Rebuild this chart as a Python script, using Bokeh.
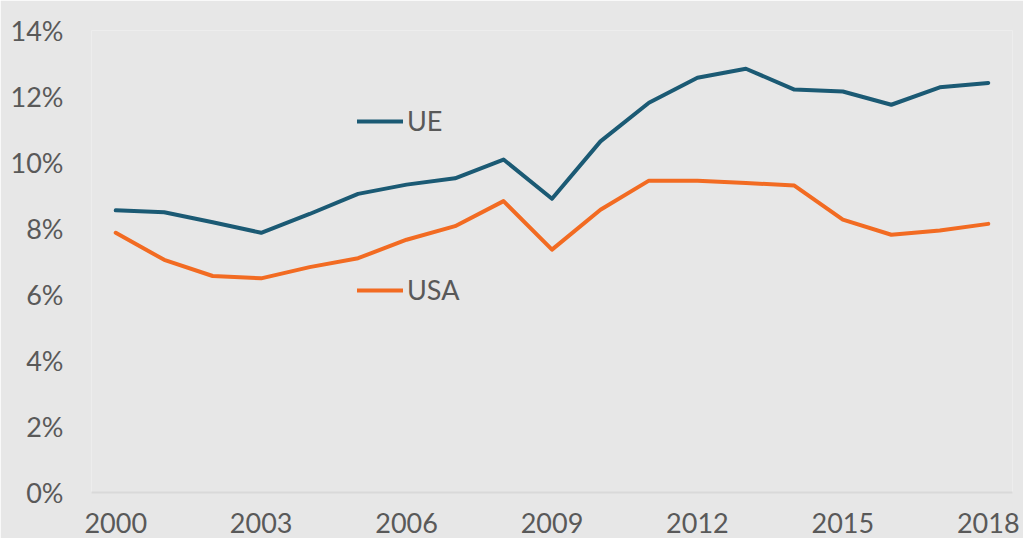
from bokeh.plotting import figure
from bokeh.models import FixedTicker, PrintfTickFormatter, Range1d, Legend, LegendItem
from bokeh.embed import file_html
from bokeh.resources import INLINE

years = list(range(2000, 2019))
ue = [8.55, 8.49, 8.19, 7.87, 8.44, 9.05, 9.33, 9.52, 10.09, 8.90, 10.64, 11.81,
      12.57, 12.84, 12.21, 12.15, 11.75, 12.28, 12.41]
usa = [7.87, 7.05, 6.56, 6.49, 6.83, 7.10, 7.66, 8.07, 8.83, 7.36, 8.57, 9.45,
       9.45, 9.38, 9.30, 8.27, 7.81, 7.94, 8.14]
y_ticks = [0, 2, 4, 6, 8, 10, 12, 14]
x_ticks = [2000, 2003, 2006, 2009, 2012, 2015, 2018]

BG = "#e7e7e7"
TXT = "#595959"
FONT = "Lato"

p = figure(width=1023, height=538, output_backend="svg", toolbar_location=None,
           x_range=Range1d(1999.5, 2018.5), y_range=Range1d(0, 14),
           min_border_left=91, min_border_right=11, min_border_top=30, min_border_bottom=46,
           background_fill_color=BG, border_fill_color=BG)
p.outline_line_color = None
p.grid.visible = False

r_ue = p.line(years, ue, line_color="#1b5a74", line_width=4, line_cap="round", line_join="round")
r_usa = p.line(years, usa, line_color="#f26b22", line_width=4, line_cap="round", line_join="round")

p.yaxis.ticker = FixedTicker(ticks=y_ticks)
p.yaxis.formatter = PrintfTickFormatter(format="%d%%")
p.xaxis.ticker = FixedTicker(ticks=x_ticks)
for ax in (p.xaxis[0], p.yaxis[0]):
    ax.major_tick_line_color = None
    ax.minor_tick_line_color = None
    ax.major_label_text_font = FONT
    ax.major_label_text_font_size = "27px"
    ax.major_label_text_color = TXT
p.yaxis.axis_line_color = None
p.yaxis.major_label_standoff = 22
p.xaxis.axis_line_color = "#d9d9d9"
p.xaxis.axis_line_width = 2
p.xaxis.major_label_standoff = 14

def mk_legend(label, renderer, loc):
    lg = Legend(items=[LegendItem(label=label, renderers=[renderer])], location=loc,
                glyph_width=46, label_standoff=4, padding=0, margin=0, spacing=0,
                border_line_color=None, background_fill_alpha=0,
                label_text_font=FONT, label_text_font_size="27px", label_text_color=TXT)
    return lg

p.add_layout(mk_legend("UE", r_ue, (266, 355)))
p.add_layout(mk_legend("USA", r_usa, (266, 186)))

html = file_html(p, INLINE, title="chart")
open("out.html", "w").write(html)
